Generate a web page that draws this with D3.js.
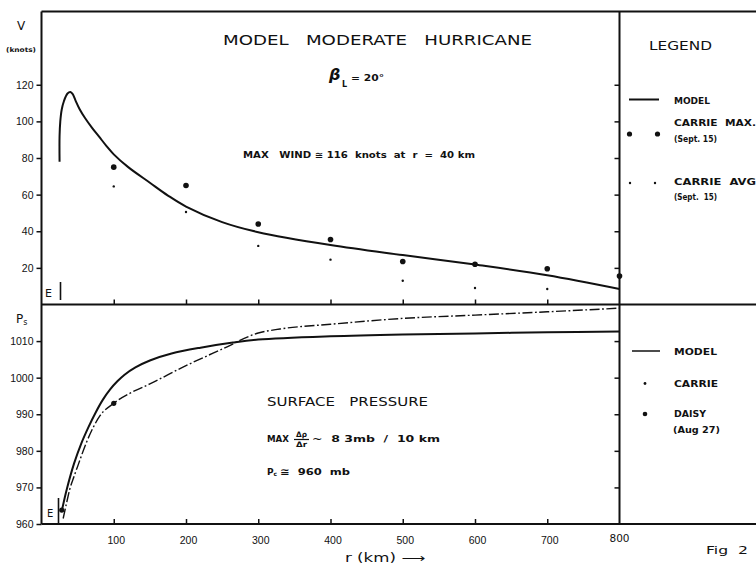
<!DOCTYPE html>
<html lang="en">
<head>
    <meta charset="UTF-8">
    <title>Model Moderate Hurricane</title>
    <script src="https://d3js.org/d3.v7.min.js"></script>
    <style>
        body {
            margin: 0;
            background-color: #fff;
        }
        svg {
            display: block;
            font-family: "DejaVu Sans", Arial, sans-serif;
        }
        .tick text {
            font-size: 10.5px;
            fill: #111;
        }
        .tick line {
            stroke: #111;
            stroke-width: 1.5px;
        }
        .lbl {
            fill: #111;
            white-space: pre;
        }
    </style>
</head>
<body>
    <div id="chart"></div>

    <script>
        // Escalas e eixos
        const xTicks = [100, 200, 300, 400, 500, 600, 700];
        const vTicks = [20, 40, 60, 80, 100, 120];
        const pTicks = [960, 970, 980, 990, 1000, 1010];

        // Painel de cima: velocidade do vento (nós)
        const modelR = [25, 25, 26, 28, 31, 36, 40, 43, 47, 53, 60, 70, 80, 90, 100, 120, 150, 175, 200, 250, 300, 400, 500, 600, 700, 800];
        const modelV = [78, 92, 100, 106.5, 111, 115.2, 116, 115, 111.5, 106.5, 102, 96.5, 91.5, 86.5, 82, 75, 66.5, 59.5, 53.5, 45, 39.5, 32.5, 27, 21.8, 16, 8.5];
        const carrieMaxR = [100, 200, 300, 400, 500, 600, 700, 800];
        const carrieMaxV = [75, 65, 44, 35.5, 23.5, 22, 19.5, 15.5];
        const carrieAvgR = [100, 200, 300, 400, 500, 600, 700];
        const carrieAvgV = [64.5, 50.5, 32, 24.5, 13, 9, 8.5];

        // Painel de baixo: pressão de superfície (mb)
        const presModelR = [28, 35, 45, 55, 65, 75, 85, 95, 105, 115, 130, 150, 180, 220, 265, 300, 400, 500, 600, 700, 800];
        const presModelP = [963.5, 969.5, 976.5, 982, 986.5, 990.5, 994, 996.8, 999, 1000.8, 1002.8, 1004.7, 1006.6, 1008.2, 1009.6, 1010.4, 1011.3, 1011.8, 1012.1, 1012.4, 1012.6];
        const carrieR = [30, 35, 39, 45, 51, 62, 81, 100, 125, 150, 200, 250, 300, 330, 400, 500, 600, 700, 800];
        const carrieP = [961.5, 966, 969.4, 973, 976.3, 982.2, 989.6, 993, 996, 998.3, 1003.3, 1007.8, 1012.2, 1013.3, 1014.6, 1016.2, 1017.1, 1018, 1019];
        const daisyR = [28, 100];
        const daisyP = [963.8, 993];

        const width = 756, height = 566;
        const xL = 41.5, xR = 619.5, yTop = 11.5, yMid = 304.5, yBot = 524;

        const svg = d3.select("#chart").append("svg")
            .attr("width", width)
            .attr("height", height);

        const x = d3.scaleLinear().domain([0, 800]).range([xL, xR]);
        const yV = d3.scaleLinear().domain([0, 160]).range([yMid, yTop]);
        const yP = d3.scaleLinear().domain([960, 1020]).range([yBot, yMid]);

        // Molduras
        const frame = svg.append("g").attr("stroke", "#111").attr("stroke-width", 2).attr("fill", "none");
        frame.append("line").attr("x1", xL).attr("x2", width).attr("y1", yTop).attr("y2", yTop);
        frame.append("line").attr("x1", xL).attr("x2", width).attr("y1", yMid).attr("y2", yMid);
        frame.append("line").attr("x1", xL).attr("x2", width).attr("y1", yBot).attr("y2", yBot);
        frame.append("line").attr("x1", xL).attr("x2", xL).attr("y1", yTop).attr("y2", yBot);
        frame.append("line").attr("x1", xR).attr("x2", xR).attr("y1", yTop).attr("y2", yBot);

        // Eixos esquerdos
        svg.append("g")
            .attr("transform", `translate(${xL},0)`)
            .call(d3.axisLeft(yV).tickValues(vTicks).tickSize(5).tickPadding(3).tickFormat(d3.format("d")))
            .call(g => g.select(".domain").remove());
        svg.append("g")
            .attr("transform", `translate(${xL},0)`)
            .call(d3.axisLeft(yP).tickValues(pTicks).tickSize(5).tickPadding(3).tickFormat(d3.format("d")))
            .call(g => g.select(".domain").remove());

        // Marcas internas do lado direito
        svg.append("g")
            .attr("transform", `translate(${xR},0)`)
            .call(d3.axisLeft(yV).tickValues(vTicks).tickSize(5).tickFormat(""))
            .call(g => g.select(".domain").remove());
        svg.append("g")
            .attr("transform", `translate(${xR},0)`)
            .call(d3.axisLeft(yP).tickValues(pTicks.slice(1)).tickSize(5).tickFormat(""))
            .call(g => g.select(".domain").remove());

        // Eixo x: marcas para dentro
        svg.append("g")
            .attr("transform", `translate(0,${yMid})`)
            .call(d3.axisBottom(x).tickValues(xTicks).tickSize(-5).tickFormat(""))
            .call(g => g.select(".domain").remove());
        svg.append("g")
            .attr("transform", `translate(0,${yBot})`)
            .call(d3.axisBottom(x).tickValues(xTicks).tickSize(-5).tickPadding(13))
            .call(g => g.select(".domain").remove())
            .call(g => g.selectAll(".tick text").attr("dx", 2));

        svg.append("text").attr("class", "lbl")
            .attr("x", x(800)).attr("y", 542)
            .attr("font-size", 10.5)
            .attr("text-anchor", "middle").text("800");

        // Curvas
        const line = d3.line().curve(d3.curveCatmullRom.alpha(0.5));

        svg.append("path")
            .datum(modelR.map((r, i) => [x(r), yV(modelV[i])]))
            .attr("d", line)
            .attr("fill", "none").attr("stroke", "#111").attr("stroke-width", 2);

        svg.append("g").selectAll("circle")
            .data(carrieMaxR.map((r, i) => [r, carrieMaxV[i]]))
            .enter().append("circle")
            .attr("cx", d => x(d[0])).attr("cy", d => yV(d[1]))
            .attr("r", 2.8).attr("fill", "#111");

        svg.append("g").selectAll("circle")
            .data(carrieAvgR.map((r, i) => [r, carrieAvgV[i]]))
            .enter().append("circle")
            .attr("cx", d => x(d[0])).attr("cy", d => yV(d[1]))
            .attr("r", 1.2).attr("fill", "#111");

        svg.append("path")
            .datum(presModelR.map((r, i) => [x(r), yP(presModelP[i])]))
            .attr("d", line)
            .attr("fill", "none").attr("stroke", "#111").attr("stroke-width", 2);

        svg.append("path")
            .datum(carrieR.map((r, i) => [x(r), yP(carrieP[i])]))
            .attr("d", d3.line().curve(d3.curveMonotoneX))
            .attr("fill", "none").attr("stroke", "#111").attr("stroke-width", 1.4)
            .attr("stroke-dasharray", "10,2.5,1.8,2.5");

        svg.append("g").selectAll("circle")
            .data(daisyR.map((r, i) => [r, daisyP[i]]))
            .enter().append("circle")
            .attr("cx", d => x(d[0])).attr("cy", d => yP(d[1]))
            .attr("r", 2.6).attr("fill", "#111");

        // Marcas do olho (E)
        const eye = svg.append("g").attr("stroke", "#111").attr("stroke-width", 1.6);
        eye.append("line").attr("x1", 60.5).attr("x2", 60.5).attr("y1", 282).attr("y2", 300);
        eye.append("line").attr("x1", 58.5).attr("x2", 58.5).attr("y1", 498).attr("y2", 524);

        // Textos
        function txt(s, px, py, size, opts = {}) {
            const t = svg.append("text").attr("class", "lbl")
                .attr("x", px).attr("y", py)
                .attr("font-size", size)
                .style("font-weight", opts.weight || "bold")
                .text(s);
            if (opts.len) t.attr("textLength", opts.len).attr("lengthAdjust", "spacingAndGlyphs");
            if (opts.anchor) t.attr("text-anchor", opts.anchor);
            return t;
        }

        txt("V", 17, 30, 12, { weight: "normal" });
        txt("(knots)", 6, 51.5, 6.5, { len: 30 });
        txt("E", 45, 297, 11, { weight: "normal" });
        txt("E", 47, 517, 10, { weight: "normal" });

        const ps = txt("P", 16, 323, 12, { weight: "normal" });
        ps.append("tspan").attr("font-size", 8).attr("dy", 2).text("s");

        txt("MODEL   MODERATE   HURRICANE", 223, 45, 14, { weight: "normal", len: 309 });

        txt("β", 329, 80, 16, { weight: "bold" }).attr("font-style", "italic");
        txt("L", 342, 87, 8);
        txt("= 20°", 351, 81, 9.5, { len: 33 });

        txt("MAX   WIND ≅ 116  knots  at  r  =  40 km", 243, 158, 8.5, { len: 232 });

        txt("LEGEND", 649, 50, 11.5, { weight: "normal", len: 63 });

        const leg = svg.append("g").attr("stroke", "#111").attr("stroke-width", 2);
        leg.append("line").attr("x1", 629).attr("x2", 659).attr("y1", 99.5).attr("y2", 99.5);
        leg.append("line").attr("x1", 632).attr("x2", 660).attr("y1", 351).attr("y2", 351).attr("stroke-width", 1.5);

        txt("MODEL", 674, 103.5, 9, { len: 36 });
        svg.append("circle").attr("cx", 629.5).attr("cy", 134).attr("r", 2.6).attr("fill", "#111");
        svg.append("circle").attr("cx", 657.5).attr("cy", 134).attr("r", 2.6).attr("fill", "#111");
        txt("CARRIE  MAX.", 674, 126, 9, { len: 82 });
        txt("(Sept. 15)", 674, 142, 9, { len: 43 });
        svg.append("circle").attr("cx", 630).attr("cy", 183).attr("r", 1.2).attr("fill", "#111");
        svg.append("circle").attr("cx", 655).attr("cy", 183).attr("r", 1.2).attr("fill", "#111");
        txt("CARRIE  AVG", 674, 185, 9, { len: 82 });
        txt("(Sept.  15)", 674, 199.5, 9, { len: 43 });

        txt("MODEL", 674, 355, 9, { len: 43 });
        svg.append("circle").attr("cx", 645).attr("cy", 383.5).attr("r", 1.4).attr("fill", "#111");
        txt("CARRIE", 674, 387, 9, { len: 44 });
        svg.append("circle").attr("cx", 645).attr("cy", 414).attr("r", 2.3).attr("fill", "#111");
        txt("DAISY", 674, 417, 9, { len: 32 });
        txt("(Aug 27)", 673, 432.5, 8.5, { len: 47 });

        txt("SURFACE   PRESSURE", 267, 406, 13, { weight: "normal", len: 161 });
        txt("MAX", 267, 442, 8, { len: 22 });
        txt("Δρ", 296, 437, 7.5, { len: 11 });
        svg.append("line").attr("x1", 294).attr("x2", 309).attr("y1", 439.5).attr("y2", 439.5)
            .attr("stroke", "#111").attr("stroke-width", 1.2);
        txt("Δr", 296, 447, 7.5, { len: 11 });
        txt("~  8 3mb  /  10 km", 312, 442, 9, { len: 128 });
        const pc = txt("P", 267, 475, 9, { weight: "bold" });
        pc.append("tspan").attr("font-size", 6).attr("dy", 1).text("c");
        txt("≅  960  mb", 280, 475, 9, { len: 70 });

        txt("r (km) ⟶", 345, 562, 12, { weight: "normal", len: 80 });
        txt("Fig  2", 706, 554, 11, { weight: "normal", len: 42 });
    </script>
</body>
</html>
